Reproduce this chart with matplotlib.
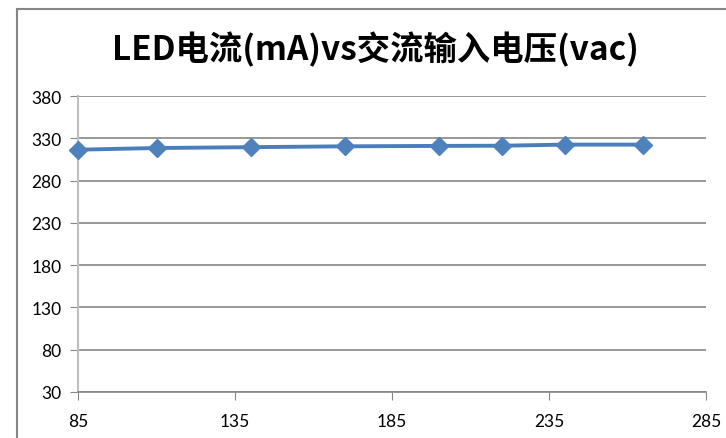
import matplotlib
matplotlib.use("Agg")
import matplotlib.pyplot as plt
from matplotlib.lines import Line2D

plt.rcParams['font.family'] = ['Noto Sans CJK SC', 'DejaVu Sans']

title = "LED电流(mA)vs交流输入电压(vac)"
voltage = [85, 110, 140, 170, 200, 220, 240, 265]
current = [316.5, 318.5, 319.5, 320.5, 321, 321.2, 322.5, 322.5]
x_ticks = [85, 135, 185, 235, 285]
y_ticks = [30, 80, 130, 180, 230, 280, 330, 380]

W, H = 726, 439
fig = plt.figure(figsize=(W / 100, H / 100), dpi=100)
ax = fig.add_axes([78 / W, 1 - 393 / H, (706 - 78) / W, (393 - 97) / H])

ax.plot(voltage, current, color='#4A7EBB', lw=2.8, marker='D', ms=9,
        markerfacecolor='#4F81BD', markeredgecolor='#4F81BD', zorder=3, clip_on=False)

ax.set_xlim(85, 285)
ax.set_ylim(30, 380)
ax.set_xticks(x_ticks)
ax.set_yticks(y_ticks)
ax.set_xticklabels([str(v) for v in x_ticks], fontsize=12.5, family=['Lato', 'DejaVu Sans'])
ax.set_yticklabels([str(v) for v in y_ticks], fontsize=12.5, family=['Lato', 'DejaVu Sans'])
ax.yaxis.grid(True, color='#868686', lw=1.2)
ax.set_axisbelow(True)

for s in ['top', 'right']:
    ax.spines[s].set_visible(False)
ax.spines['left'].set_color('#BFBFBF')
ax.spines['left'].set_linewidth(1.5)
ax.spines['bottom'].set_color('#868686')
ax.spines['bottom'].set_linewidth(1.2)
ax.tick_params(axis='y', length=6, color='#868686', pad=6, labelcolor='black')
ax.tick_params(axis='x', length=6, color='#868686', pad=9, labelcolor='black')

fig.text(375 / W, 1 - 50 / H, title, ha='center', va='center', fontsize=24,
         fontweight='bold', color='black')

# outer chart border (left and top visible)
fig.add_artist(Line2D([17 / W, 17 / W], [0, 1 - 10 / H], transform=fig.transFigure,
                      color='#868686', lw=1.5))
fig.add_artist(Line2D([17 / W, 1], [1 - 10 / H, 1 - 10 / H], transform=fig.transFigure,
                      color='#868686', lw=1.5))

fig.savefig('out.png', dpi=100)
